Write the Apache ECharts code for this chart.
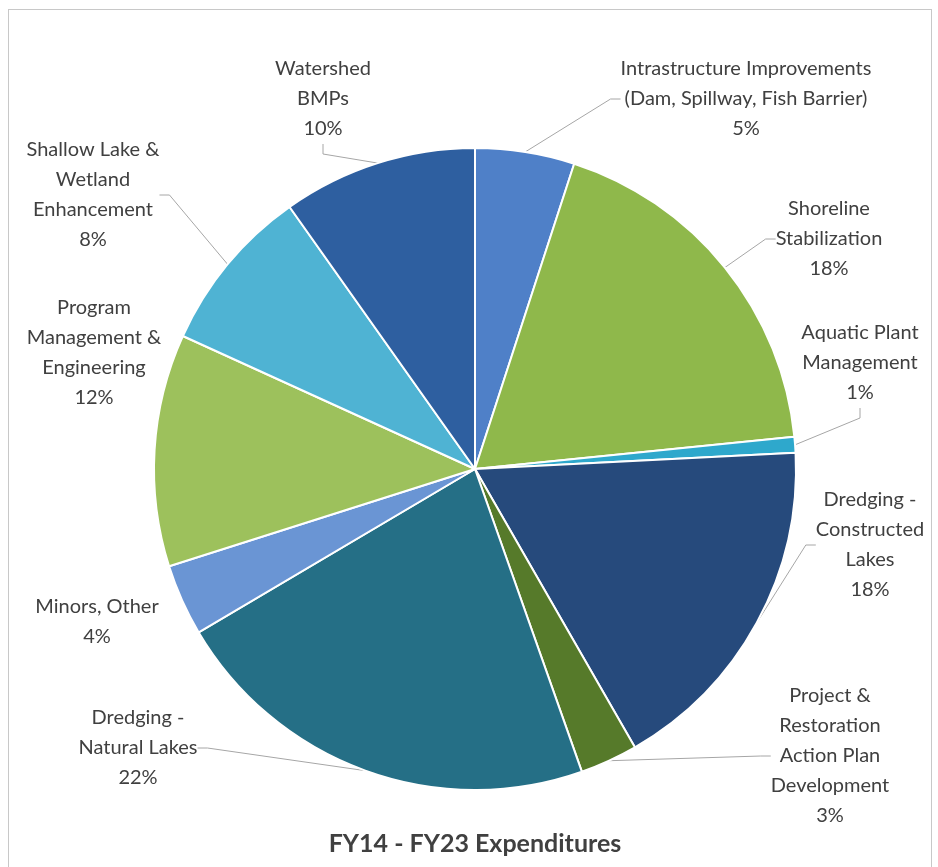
<!DOCTYPE html>
<html>
<head>
<meta charset="utf-8">
<script src="https://cdn.jsdelivr.net/npm/echarts@6/dist/echarts.min.js"></script>
<style>
  html, body { margin: 0; padding: 0; background: #fff; }
  #frame { position: absolute; left: 8px; top: 9px; width: 924px; height: 858px; border: 1px solid #c8c8c8; border-bottom: none; box-sizing: border-box; }
  #chart { position: absolute; left: 0; top: 0; width: 938px; height: 867px; }
</style>
</head>
<body>
<div id="frame"></div>
<div id="chart"></div>
<script>
// slices clockwise from 12 o'clock
const categories = [
  'Intrastructure Improvements\n(Dam, Spillway, Fish Barrier)',
  'Shoreline\nStabilization',
  'Aquatic Plant\nManagement',
  'Dredging -\nConstructed\nLakes',
  'Project &\nRestoration\nAction Plan\nDevelopment',
  'Dredging -\nNatural Lakes',
  'Minors, Other',
  'Program\nManagement &\nEngineering',
  'Shallow Lake &\nWetland\nEnhancement',
  'Watershed\nBMPs'
]
const shares = [5.0, 18.4, 0.8, 17.5, 2.9, 21.9, 3.6, 11.7, 8.4, 9.8]
const colors = ['#4f80c8', '#8fb84b', '#2ea8cc', '#264a7c', '#567a2a',
                '#256f86', '#6a95d4', '#9dc15c', '#4fb3d3', '#2e5fa0']

// label block centres (layout only)
const labelAt = [
  [746, 99], [829, 239], [860, 363], [870, 545], [830, 756],
  [138, 748], [97, 622], [94, 353], [93, 195], [323, 99]
]
const noLine = [6, 7]

const chart = echarts.init(document.getElementById('chart'))

chart.setOption({
  animation: false,
  title: {
    text: 'FY14 - FY23 Expenditures',
    left: 470, top: 826, textAlign: 'center',
    textStyle: { fontFamily: 'Lato', fontWeight: 'bold', fontSize: 25, color: '#404040' }
  },
  series: [{
    type: 'pie',
    center: [475, 469],
    radius: 321,
    startAngle: 90,
    clockwise: true,
    data: categories.map((name, i) => ({
      name, value: shares[i],
      itemStyle: { color: colors[i] },
      labelLine: { show: !noLine.includes(i) }
    })),
    itemStyle: { borderColor: '#fff', borderWidth: 2 },
    label: {
      show: true,
      position: 'outside',
      formatter: p => p.name + '\n' + Math.round(p.value) + '%',
      fontFamily: 'Lato',
      fontSize: 20,
      lineHeight: 30,
      color: '#404040',
      align: 'center',
      overflow: 'none'
    },
    labelLine: { show: true, length: 10, length2: 10, lineStyle: { color: '#a6a6a6', width: 1 } },
    labelLayout: p => ({
      x: labelAt[p.dataIndex][0],
      y: labelAt[p.dataIndex][1],
      align: 'center',
      verticalAlign: 'middle'
    })
  }]
})

window.addEventListener('resize', () => chart.resize())
</script>
</body>
</html>
